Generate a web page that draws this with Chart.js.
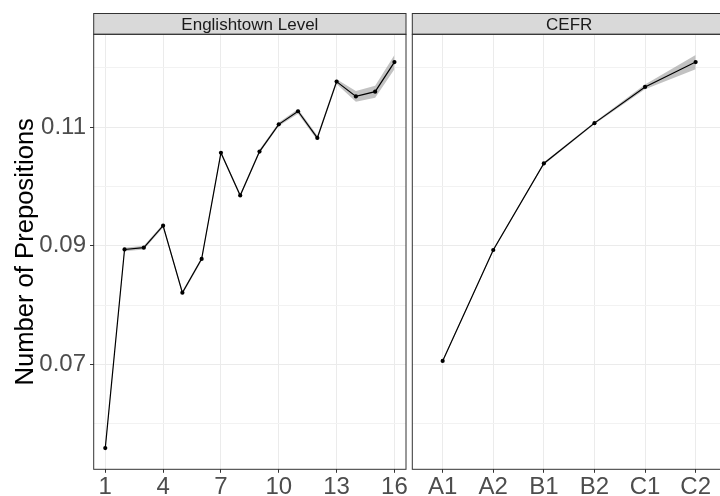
<!DOCTYPE html>
<html>
<head>
<meta charset="utf-8">
<script src="https://cdn.jsdelivr.net/npm/chart.js@4/dist/chart.umd.min.js"></script>
<style>
  html, body { margin: 0; padding: 0; background: #ffffff; overflow: hidden; }
  #wrap { position: relative; width: 720px; height: 496px; overflow: hidden; }
  canvas { position: absolute; top: 0; }
</style>
</head>
<body>
<div id="wrap">
  <canvas id="left" width="410" height="496" style="left:0px"></canvas>
  <canvas id="right" width="326" height="496" style="left:404px"></canvas>
</div>
<script>
// panel titles
const panelTitles = ['Englishtown Level', 'CEFR'];
const yTitle = 'Number of Prepositions';

// Englishtown levels 1..16
const etLevels = [1, 2, 3, 4, 5, 6, 7, 8, 9, 10, 11, 12, 13, 14, 15, 16];
const etMean  = [0.0559, 0.0894, 0.0897, 0.0934, 0.0821, 0.0878, 0.1057, 0.0985, 0.1059, 0.1105, 0.1127, 0.1082, 0.1177, 0.1152, 0.1160, 0.1210];
const etLower = [0.0557, 0.0891, 0.0894, 0.0931, 0.0818, 0.0875, 0.1054, 0.0982, 0.1056, 0.1102, 0.1123, 0.1078, 0.1173, 0.1143, 0.1150, 0.1198];
const etUpper = [0.0561, 0.0897, 0.0900, 0.0937, 0.0824, 0.0881, 0.1060, 0.0988, 0.1062, 0.1108, 0.1131, 0.1086, 0.1181, 0.1161, 0.1170, 0.1222];
const etTicks = [1, 4, 7, 10, 13, 16];

// CEFR levels
const cefrLevels = ['A1', 'A2', 'B1', 'B2', 'C1', 'C2'];
const cefrMean  = [0.0706, 0.0893, 0.1039, 0.1107, 0.1168, 0.1210];
const cefrLower = [0.0704, 0.0891, 0.1037, 0.1105, 0.1164, 0.1198];
const cefrUpper = [0.0708, 0.0895, 0.1041, 0.1109, 0.1172, 0.1222];

// y axis breaks
const yMajor = [0.07, 0.09, 0.11];
const yMinor = [0.06, 0.08, 0.10, 0.12];

const FONT = 'Liberation Sans, Arial, sans-serif';
const Y_MIN = 0.05232, Y_MAX = 0.12568;

const isMajor = v => yMajor.some(m => Math.abs(m - v) < 1e-9);

const panelDeco = {
  id: 'panelDeco',
  afterDraw: (chart, args, opts) => {
    const {ctx, chartArea: a} = chart;
    ctx.save();
    // strip
    ctx.fillStyle = '#D9D9D9';
    ctx.fillRect(a.left, 13, a.right - a.left, a.top - 13);
    ctx.strokeStyle = '#333333';
    ctx.lineWidth = 1;
    ctx.strokeRect(a.left, 13.5, a.right - a.left, a.top - 13.5);
    ctx.fillStyle = '#1A1A1A';
    ctx.font = '17px ' + FONT;
    ctx.textAlign = 'center';
    ctx.textBaseline = 'alphabetic';
    ctx.fillText(opts.title, (a.left + a.right) / 2, 30.3);
    // panel border
    ctx.strokeRect(a.left, a.top, a.right - a.left, a.bottom - a.top);
    if (opts.yTitle) {
      ctx.translate(33.3, (a.top + a.bottom) / 2);
      ctx.rotate(-Math.PI / 2);
      ctx.fillStyle = '#000000';
      ctx.font = '25.6px ' + FONT;
      ctx.fillText(opts.yTitle, 0, 0);
    }
    ctx.restore();
  }
};

function makeDatasets(xs, mean, lower, upper) {
  const pts = arr => xs.map((x, i) => ({x: x, y: arr[i]}));
  return [
    {
      data: pts(mean), borderColor: '#000000', borderWidth: 1.2,
      pointRadius: 2.1, pointBackgroundColor: '#000000', pointBorderWidth: 0,
      tension: 0, fill: false
    },
    { data: pts(upper), borderWidth: 0, pointRadius: 0, fill: false },
    {
      data: pts(lower), borderWidth: 0, pointRadius: 0,
      fill: '-1', backgroundColor: 'rgba(153,153,153,0.6)'
    }
  ];
}

function makeChart(id, cfg) {
  return new Chart(document.getElementById(id), {
    type: 'line',
    data: { datasets: makeDatasets(cfg.xs, cfg.mean, cfg.lower, cfg.upper) },
    options: {
      responsive: false,
      animation: false,
      layout: { padding: { top: 34.3, right: cfg.padRight, left: 0, bottom: 0 } },
      plugins: {
        legend: { display: false },
        tooltip: { enabled: false },
        panelDeco: { title: cfg.title, yTitle: cfg.yTitle }
      },
      scales: {
        x: {
          type: 'linear', min: 0.4, max: cfg.xMax,
          afterBuildTicks: s => { s.ticks = cfg.xTicks.map(v => ({value: v})); },
          afterFit: s => { s.height = 26.7; },
          border: { display: false },
          grid: { color: '#EBEBEB', lineWidth: 1, tickLength: 3.5, tickColor: '#333333' },
          ticks: {
            color: '#4D4D4D', font: { family: FONT, size: 24 }, padding: 0,
            maxRotation: 0, autoSkip: false,
            callback: cfg.xLabel
          }
        },
        y: {
          type: 'linear', min: Y_MIN, max: Y_MAX,
          afterBuildTicks: s => {
            s.ticks = yMajor.concat(yMinor).sort((a, b) => a - b).map(v => ({value: v}));
          },
          afterFit: s => { s.width = cfg.yWidth; },
          border: { display: false },
          grid: {
            color: c => isMajor(c.tick.value) ? '#EBEBEB' : '#F2F2F2',
            lineWidth: 1,
            drawTicks: cfg.yLabels,
            tickLength: 3.7,
            tickColor: c => isMajor(c.tick.value) ? '#333333' : 'rgba(0,0,0,0)'
          },
          ticks: {
            display: cfg.yLabels,
            color: '#4D4D4D', font: { family: FONT, size: 24 }, padding: 4,
            autoSkip: false,
            callback: v => isMajor(v) ? v.toFixed(2) : ''
          }
        }
      }
    },
    plugins: [panelDeco]
  });
}

makeChart('left', {
  xs: etLevels, mean: etMean, lower: etLower, upper: etUpper,
  xTicks: etTicks, xMax: 16.6, xLabel: v => String(v),
  title: panelTitles[0], yTitle: yTitle,
  yWidth: 93.7, padRight: 2.7, yLabels: true
});

makeChart('right', {
  xs: cefrLevels.map((c, i) => i + 1), mean: cefrMean, lower: cefrLower, upper: cefrUpper,
  xTicks: [1, 2, 3, 4, 5, 6], xMax: 6.6, xLabel: v => cefrLevels[v - 1],
  title: panelTitles[1], yTitle: null,
  yWidth: 8.3, padRight: 3.4, yLabels: false
});
</script>
</body>
</html>
